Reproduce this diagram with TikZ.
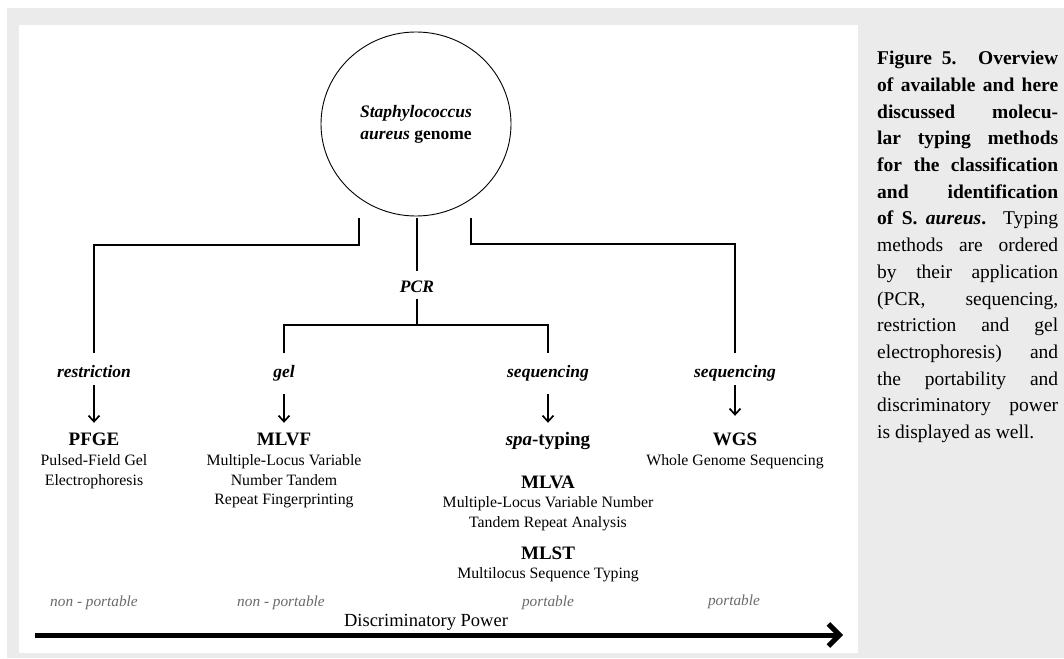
\documentclass[tikz,border=0pt]{standalone}
\usepackage{fontspec}
\setmainfont{Liberation Serif}
\usepackage{xcolor}
\usetikzlibrary{shapes.geometric,arrows.meta,positioning}
\definecolor{panelgray}{HTML}{EBEBEB}
\definecolor{portgray}{HTML}{6A6A6A}
\newcommand{\capline}[1]{\makebox[181pt][s]{#1}}

\begin{document}
\begin{tikzpicture}[
  x=1pt, y=-1pt,
  >={Straight Barb[length=6pt,width=11pt]},
  link/.style={line width=1.7pt},
  arr/.style={->, line width=1.7pt, shorten <=8.5pt, shorten >=9.5pt},
  method/.style={font=\fontsize{17.5}{20}\selectfont\bfseries\itshape, text height=12pt, text depth=0pt, inner sep=0pt, anchor=base},
  head/.style={font=\fontsize{19}{22}\selectfont\bfseries, text height=13pt, text depth=0pt, inner sep=0pt, anchor=base},
  full/.style={font=\fontsize{15.8}{19.5}\selectfont, align=center, inner sep=0pt},
  port/.style={font=\fontsize{15.3}{18}\selectfont\itshape, text=portgray, inner sep=0pt},
]
\useasboundingbox (0,0) rectangle (1064,658);
% background and panel
\fill[panelgray] (7,8) rectangle (1064,658);
\fill[white] (19,25) rectangle (858,653);
% genome
\node[draw, ellipse, line width=0.9pt, minimum width=190pt, minimum height=184pt, align=center,
  font=\fontsize{17.5}{22}\selectfont\bfseries] (genome) at (416,124)
  {\textit{Staphylococcus}\\\textit{aureus} genome};
\coordinate (sL) at (359,218);
\coordinate (sM) at (417,218);
\coordinate (sR) at (471,218);
\coordinate (bL) at (359,245);
\coordinate (bR) at (471,244);
\coordinate (jP) at (417,325);
% applications
\node[method] (pcr) at (417,292) {PCR};
\node[method] (restr) at (94,377) {restriction};
\node[method] (gel) at (284,377) {gel};
\node[method] (seqA) at (548,377) {sequencing};
\node[method] (seqB) at (735,377) {sequencing};
% typing methods
\node[head] (pfge) at (94,445.5) {PFGE};
\node[head] (mlvf) at (284,445.5) {MLVF};
\node[head] (spa) at (548,445.5) {\textit{spa}-typing};
\node[head] (wgs) at (735,445.5) {WGS};
\node[head] (mlva) at (548,488.5) {MLVA};
\node[head] (mlst) at (548,559.5) {MLST};
\node[full] (pfgeT) at (94,471.5) {Pulsed-Field Gel\\Electrophoresis};
\node[full] (mlvfT) at (284,481.5) {Multiple-Locus Variable\\Number Tandem\\Repeat Fingerprinting};
\node[full] (wgsT) at (735,462) {Whole Genome Sequencing};
\node[full] (mlvaT) at (548,513.5) {Multiple-Locus Variable Number\\Tandem Repeat Analysis};
\node[full] (mlstT) at (548,575) {Multilocus Sequence Typing};
% portability and power
\node[port] (portA) at (94,603) {non - portable};
\node[port] (portB) at (281,603) {non - portable};
\node[port] (portC) at (548,603) {portable};
\node[port] (portD) at (734,602) {portable};
\node[font=\fontsize{18.5}{21}\selectfont, inner sep=0pt] (dp) at (426,622) {Discriminatory Power};
\coordinate (axL) at (35,635);
\coordinate (axR) at (843,635);
% edges
\draw[link] (sL) -- (bL) -| ([yshift=11.5pt]restr.north);
\draw[link] (sR) -- (bR) -| ([yshift=11.5pt]seqB.north);
\draw[link, shorten >=8.5pt] (sM) -- (pcr);
\draw[link, shorten <=7pt] (pcr) -- (jP);
\draw[link] ([yshift=11.5pt]gel.north) |- (jP) -| ([yshift=11.5pt]seqA.north);
\draw[arr, shorten <=8pt] (restr) -- (pfge);
\draw[arr, shorten <=17pt] (gel) -- (mlvf);
\draw[arr, shorten <=17pt] (seqA) -- (spa);
\draw[arr, shorten <=8pt, shorten >=16.5pt] (seqB) -- (wgs);
\draw[line width=5pt, -{Straight Barb[length=11pt,width=22pt]}] (axL) -- (axR);
% caption
\node[anchor=north west, inner sep=0pt, align=left, font=\fontsize{19.5}{26.7}\selectfont] (caption) at (877,51)
  {\capline{\textbf{Figure 5. Overview}}\\
   \capline{\textbf{of available and here}}\\
   \capline{\textbf{discussed molecu-}}\\
   \capline{\textbf{lar typing methods}}\\
   \capline{\textbf{for the classification}}\\
   \capline{\textbf{and identification}}\\
   \capline{\textbf{of S. \textit{aureus}.} Typing}\\
   \capline{methods are ordered}\\
   \capline{by their application}\\
   \capline{(PCR, sequencing,}\\
   \capline{restriction and gel}\\
   \capline{electrophoresis) and}\\
   \capline{the portability and}\\
   \capline{discriminatory power}\\
   is displayed as well.};
\end{tikzpicture}
\end{document}
